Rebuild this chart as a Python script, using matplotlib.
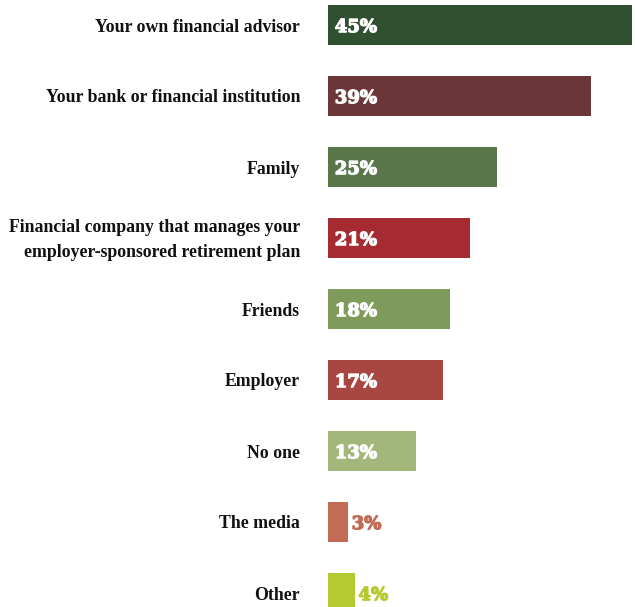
import matplotlib
matplotlib.use("Agg")
import matplotlib.pyplot as plt
import matplotlib.patheffects as pe

categories = [
    "Your own financial advisor",
    "Your bank or financial institution",
    "Family",
    "Financial company that manages your\nemployer-sponsored retirement plan",
    "Friends",
    "Employer",
    "No one",
    "The media",
    "Other",
]
values = [45, 39, 25, 21, 18, 17, 13, 3, 4]
colors = ["#30512f", "#6c3538", "#58764a", "#a52a31", "#7f9b5c",
          "#a84741", "#a3b77a", "#c26b56", "#b5c930"]

W, H = 635, 607
fig = plt.figure(figsize=(W / 100, H / 100), dpi=100)

# bars start at x=328px, 45% reaches 632px; rows every 71px, first bar centred at 25px
pitch = 71.0
ax = fig.add_axes([328 / W, 0, 304 / W, 1])
ax.set_xlim(0, 45)
ax.set_ylim((H - 25) / pitch, -25 / pitch)
ax.axis("off")

ys = list(range(len(values)))
ax.barh(ys, values, height=40 / pitch, color=colors, edgecolor="none")

for y, v, c, label in zip(ys, values, colors, categories):
    fig.text(300 / W, 1 - (27 + y * pitch) / H, label, ha="right", va="center",
             fontsize=12.75, fontweight="bold", family="Liberation Serif",
             linespacing=1.55, color="#111111")
    inside = v >= 10
    tc = "white" if inside else c
    x = 1.0 if inside else v + 0.5
    ax.text(x, y + 0.03, f"{v}%", ha="left", va="center", color=tc,
            fontsize=13, fontweight="bold", family="DejaVu Serif",
            path_effects=[pe.withStroke(linewidth=0.9, foreground=tc)])

fig.savefig("out.png", dpi=100)
